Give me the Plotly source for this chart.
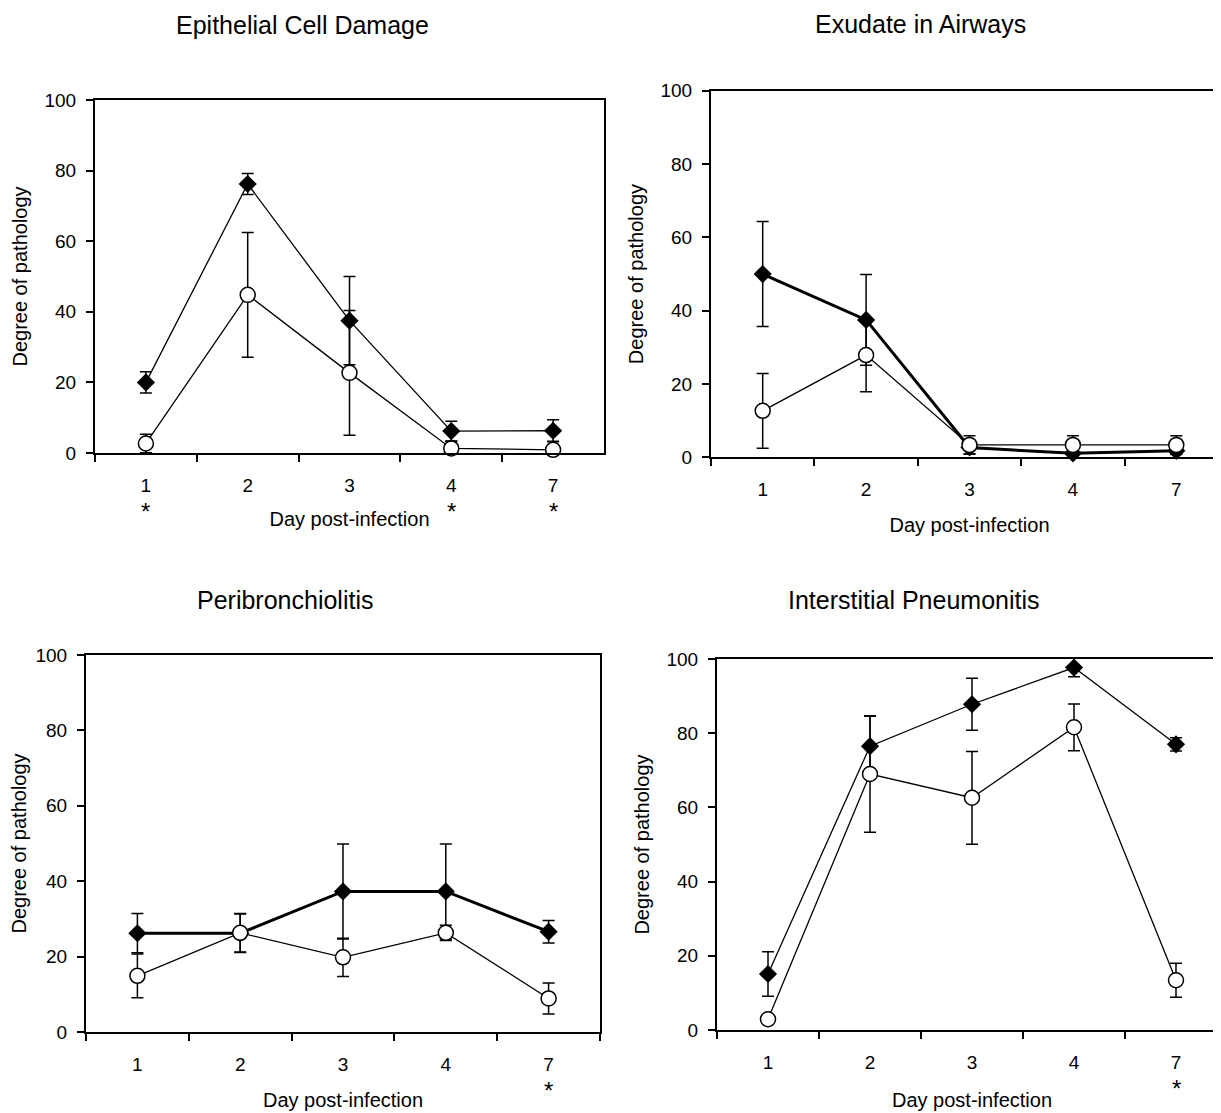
import plotly.graph_objects as go

days = ["1", "2", "3", "4", "7"]
y_label = "Degree of pathology"
x_label = "Day post-infection"

# Panel titles
titles = ["Epithelial Cell Damage", "Exudate in Airways", "Peribronchiolitis", "Interstitial Pneumonitis"]

# Epithelial Cell Damage
ecd_filled = [20, 76.2, 37.5, 6.2, 6.3]
ecd_filled_err = [3, 3, 12.5, 2.8, 3.1]
ecd_open = [2.7, 44.8, 22.7, 1.3, 0.9]
ecd_open_err = [2.6, 17.7, 17.7, 2.0, 2.4]
ecd_sig = ["1", "4", "7"]

# Exudate in Airways
exu_filled = [50.0, 37.5, 2.7, 1.1, 1.8]
exu_filled_err = [14.3, 12.4, 1.8, 1.0, 1.0]
exu_open = [12.7, 27.9, 3.4, 3.4, 3.4]
exu_open_err = [10.2, 10.0, 2.5, 2.5, 2.5]
exu_sig = []

# Peribronchiolitis
per_filled = [26.2, 26.2, 37.3, 37.3, 26.6]
per_filled_err = [5.2, 5.1, 12.6, 12.6, 3.0]
per_open = [14.9, 26.3, 19.8, 26.3, 8.9]
per_open_err = [5.8, 5.1, 5.1, 2.0, 4.1]
per_sig = ["7"]

# Interstitial Pneumonitis
int_filled = [15.1, 76.5, 87.8, 97.7, 77.0]
int_filled_err = [6.0, 8.1, 7.0, 2.5, 1.8]
int_open = [2.9, 69.0, 62.6, 81.6, 13.4]
int_open_err = [1.2, 15.7, 12.5, 6.3, 4.6]
int_sig = ["7"]

W, H = 1221, 1113
OFF = 8  # page body margin


def px(X):
    return (X - OFF) / W


def py(Y):
    return 1 - (Y - OFF) / H


panels = [
    dict(filled=ecd_filled, ferr=ecd_filled_err, open=ecd_open, oerr=ecd_open_err, sig=ecd_sig,
         fw=1.3, dom_x=[px(95), px(604)], dom_y=[py(453), py(100)], xr=[-0.5, 4.5], box=True,
         title_xy=(302, 25), xstand=17),
    dict(filled=exu_filled, ferr=exu_filled_err, open=exu_open, oerr=exu_open_err, sig=exu_sig,
         fw=3.0, dom_x=[px(711), px(1228)], dom_y=[py(457.4), py(90.7)], xr=[-0.5, 4.5], box=False,
         title_xy=(920, 24), xstand=19),
    dict(filled=per_filled, ferr=per_filled_err, open=per_open, oerr=per_open_err, sig=per_sig,
         fw=3.0, dom_x=[px(86), px(600)], dom_y=[py(1032), py(655)], xr=[-0.5, 4.5], box=True,
         title_xy=(285, 600), xstand=19),
    dict(filled=int_filled, ferr=int_filled_err, open=int_open, oerr=int_open_err, sig=int_sig,
         fw=1.3, dom_x=[px(717), px(1227)], dom_y=[py(1030), py(659)], xr=[-0.5, 4.5], box=False,
         title_xy=(914, 600), xstand=21),
]

FONT = "Liberation Sans, Arial, sans-serif"
fig = go.Figure()
annotations = []
layout = {}

for i, p in enumerate(panels):
    n = "" if i == 0 else str(i + 1)
    xa, ya = "x" + n, "y" + n
    fig.add_trace(go.Scatter(
        x=days, y=p["filled"], xaxis=xa, yaxis=ya, mode="lines+markers",
        line=dict(color="black", width=p["fw"]),
        marker=dict(symbol="diamond", size=14, color="black", line=dict(color="black", width=0)),
        error_y=dict(type="data", array=p["ferr"], visible=True, color="black", thickness=1.5, width=6),
        cliponaxis=False, showlegend=False))
    fig.add_trace(go.Scatter(
        x=days, y=p["open"], xaxis=xa, yaxis=ya, mode="lines+markers",
        line=dict(color="black", width=1.3),
        marker=dict(symbol="circle", size=15, color="white", line=dict(color="black", width=1.5)),
        error_y=dict(type="data", array=p["oerr"], visible=True, color="black", thickness=1.5, width=6),
        cliponaxis=False, showlegend=False))

    layout["xaxis" + n] = dict(
        domain=p["dom_x"], anchor=ya, type="category", categoryorder="array", categoryarray=days,
        range=p["xr"], tickson="boundaries", ticks="outside", ticklen=7, tickwidth=1.5,
        tickcolor="black", showline=True, linecolor="black", linewidth=2, mirror=True,
        showgrid=False, zeroline=False, ticklabelstandoff=14, automargin=False,
        tickfont=dict(family=FONT, size=19, color="black"),
        title=dict(text=x_label, font=dict(family=FONT, size=20, color="black"), standoff=p["xstand"]))
    layout["yaxis" + n] = dict(
        domain=p["dom_y"], anchor=xa, range=[0, 100], tickvals=[0, 20, 40, 60, 80, 100],
        ticks="outside", ticklen=7, tickwidth=1.5, tickcolor="black",
        showline=True, linecolor="black", linewidth=2, mirror=p["box"],
        showgrid=False, zeroline=False, ticklabelstandoff=6, automargin=False,
        tickfont=dict(family=FONT, size=19, color="black"),
        title=dict(text=y_label, font=dict(family=FONT, size=20, color="black"), standoff=11))

    tx, ty = p["title_xy"]
    annotations.append(dict(text=titles[i], x=px(tx), y=py(ty), xref="paper", yref="paper",
                            showarrow=False, xanchor="center", yanchor="middle",
                            font=dict(family=FONT, size=25, color="black")))
    for d in p["sig"]:
        annotations.append(dict(text="*", x=days.index(d), y=0, xref=xa, yref=ya + " domain",
                                showarrow=False, xanchor="center", yanchor="middle",
                                yshift=-58, font=dict(family=FONT, size=24, color="black")))

fig.update_layout(
    width=W, height=H, margin=dict(l=0, r=0, t=0, b=0),
    paper_bgcolor="white", plot_bgcolor="white", showlegend=False,
    annotations=annotations, **layout)

fig.write_html("out.html")
